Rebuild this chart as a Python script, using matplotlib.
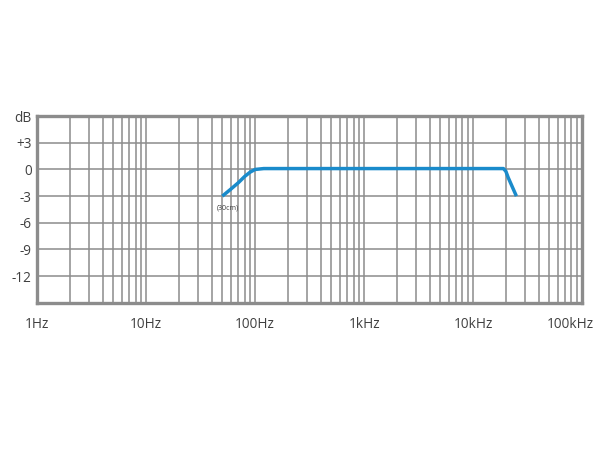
import matplotlib
matplotlib.use("Agg")
import matplotlib.pyplot as plt
import matplotlib.transforms as mtransforms
from matplotlib.ticker import FixedLocator, NullFormatter

plt.rcParams["font.family"] = ["Open Sans", "DejaVu Sans"]

# frequency response (Hz, dB)
freq = [50, 60, 70, 80, 90, 100, 120, 1000, 10000, 19000, 20000, 21000, 23000, 25000]
level = [-3.0, -2.2, -1.5, -0.8, -0.3, 0.0, 0.1, 0.1, 0.1, 0.1, -0.2, -0.9, -2.0, -3.0]

x_ticks = [1, 10, 100, 1000, 10000, 100000]
x_labels = ["1Hz", "10Hz", "100Hz", "1kHz", "10kHz", "100kHz"]
y_ticks = [6, 3, 0, -3, -6, -9, -12]
y_labels = ["dB", "+3", "0", "-3", "-6", "-9", "-12"]

grid_col = "#8c8c8c"
text_col = "#404040"

fig = plt.figure(figsize=(6, 4.5), dpi=100)
ax = fig.add_axes([0.062, 0.327, 0.908, 0.415])

ax.plot(freq, level, color="#1a8bcb", linewidth=2.5, solid_capstyle="butt", zorder=3)
ax.text(56, -4.3, "(30cm)", fontsize=5, color=text_col, ha="center", va="center")

ax.set_xscale("log")
ax.set_xlim(1, 100000)
ax.set_ylim(-15, 6)

ax.xaxis.set_major_locator(FixedLocator(x_ticks))
ax.set_xticklabels(x_labels)
minors = [m * d for d in x_ticks[:-1] for m in range(2, 10)]
ax.xaxis.set_minor_locator(FixedLocator(minors))
ax.xaxis.set_minor_formatter(NullFormatter())
ax.set_yticks(y_ticks)
ax.set_yticklabels(y_labels)

ax.grid(True, which="both", axis="x", color=grid_col, linewidth=1.1)
ax.grid(True, which="major", axis="y", color=grid_col, linewidth=1.1)

ax.tick_params(which="both", length=0, labelsize=9.8, labelcolor=text_col)
ax.tick_params(axis="x", pad=10)
ax.tick_params(axis="y", pad=4)

# pull the last label in so it stays inside the picture
last = ax.get_xticklabels()[-1]
last.set_transform(last.get_transform() + mtransforms.ScaledTranslation(-12 / 100, 0, fig.dpi_scale_trans))

for s in ax.spines.values():
    s.set_color(grid_col)
    s.set_linewidth(2.4)

fig.savefig("out.png", dpi=100, facecolor="white")
